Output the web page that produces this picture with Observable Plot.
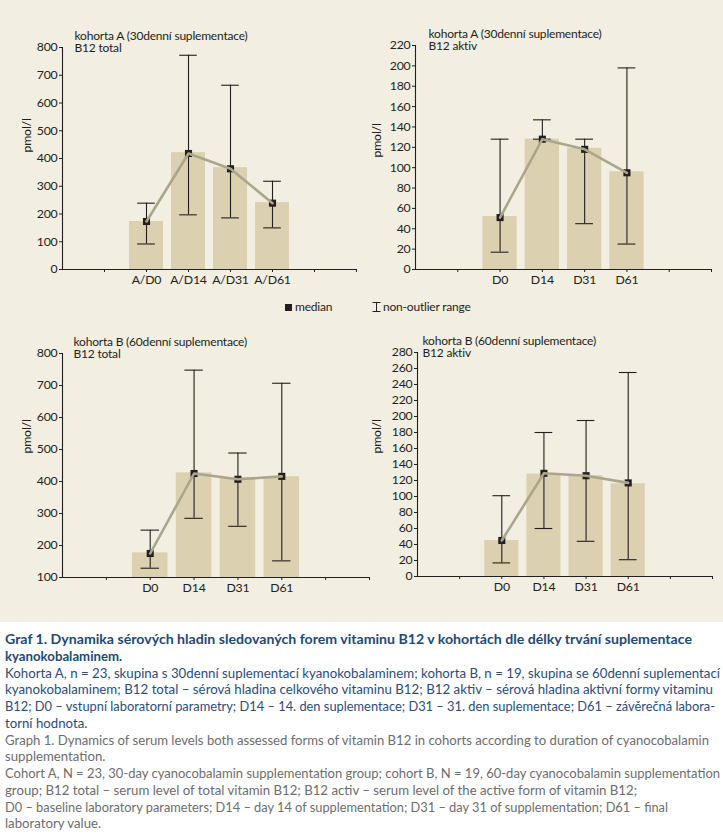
<!DOCTYPE html>
<html>
<head>
<meta charset="utf-8">
<script src="https://cdn.jsdelivr.net/npm/d3@7"></script>
<script src="https://cdn.jsdelivr.net/npm/@observablehq/plot@0.6"></script>
<style>
  body { margin: 0; background: #ffffff; width: 723px; height: 837px; overflow: hidden; }
  #charts { position: relative; width: 723px; height: 622px; background: #f2eee1; }
  .panel { position: absolute; }
  #legend { position: absolute; top: 300px; left: 0; width: 723px; height: 14px;
    font-family: "Lato", "Open Sans", sans-serif; font-size: 12px; letter-spacing: -0.2px; color: #231f20; }
  #legend .item { position: absolute; top: 0; white-space: nowrap; line-height: 14px; }
  #caption { position: absolute; top: 631px; left: 5px; width: 718px;
    font-family: "Lato", sans-serif; font-size: 13.6px; line-height: 16.75px; }
  #caption div { white-space: nowrap; width: max-content; transform-origin: 0 0; }
  .cz-title { color: #1d4a78; font-weight: bold; }
  .cz { color: #2b4d7a; }
  .en { color: #6d6d6d; }
</style>
</head>
<body>
<div id="charts">
  <div id="legend">
    <div class="item" style="left:285px"><span style="display:inline-block;width:7px;height:7px;background:#231f20;vertical-align:0px;margin-right:3px"></span>median</div>
    <div class="item" style="left:372px"><svg width="9" height="10" style="vertical-align:-1px;margin-right:2px"><path d="M0.5,0.5H8.5M4.5,0.5V9.5M0.5,9.5H8.5" stroke="#231f20" fill="none"/></svg>non-outlier range</div>
  </div>
</div>
<div id="caption">
  <div class="cz-title" data-w="687">Graf 1. Dynamika sérových hladin sledovaných forem vitaminu B12 v kohortách dle délky trvání suplementace</div>
  <div class="cz-title">kyanokobalaminem.</div>
  <div class="cz" data-w="715">Kohorta A, n = 23, skupina s 30denní suplementací kyanokobalaminem; kohorta B, n = 19, skupina se 60denní suplementací</div>
  <div class="cz" data-w="708">kyanokobalaminem; B12 total – sérová hladina celkového vitaminu B12; B12 aktiv – sérová hladina aktivní formy vitaminu</div>
  <div class="cz" data-w="710">B12; D0 – vstupní laboratorní parametry; D14 – 14. den suplementace; D31 – 31. den suplementace; D61 – závěrečná labora-</div>
  <div class="cz">torní hodnota.</div>
  <div class="en" data-w="704">Graph 1. Dynamics of serum levels both assessed forms of vitamin B12 in cohorts according to duration of cyanocobalamin</div>
  <div class="en">supplementation.</div>
  <div class="en" data-w="715">Cohort A, N = 23, 30-day cyanocobalamin supplementation group; cohort B, N = 19, 60-day cyanocobalamin supplementation</div>
  <div class="en">group; B12 total – serum level of total vitamin B12; B12 activ – serum level of the active form of vitamin B12;</div>
  <div class="en" data-w="663">D0 – baseline laboratory parameters; D14 – day 14 of supplementation; D31 – day 31 of supplementation; D61 – final</div>
  <div class="en">laboratory value.</div>
</div>
<script>
// ---- data ----
const categoriesA = ["A/D0", "A/D14", "A/D31", "A/D61"];
const categories = ["D0", "D14", "D31", "D61"];

// cohort A, B12 total
const aTotalBar = [173, 421, 367, 241];
const aTotalMedian = [173, 418, 363, 239];
const aTotalLow = [92, 197, 186, 150];
const aTotalHigh = [239, 772, 664, 318];
const aTotalTicks = [0, 100, 200, 300, 400, 500, 600, 700, 800];

// cohort A, B12 aktiv
const aActivBar = [52, 128, 119, 96];
const aActivMedian = [51, 128, 118, 95];
const aActivLow = [17, 128, 45, 25];
const aActivHigh = [128, 147, 128, 198];
const aActivTicks = [0, 20, 40, 60, 80, 100, 120, 140, 160, 180, 200, 220];

// cohort B, B12 total
const bTotalBar = [177, 427, 412, 415];
const bTotalMedian = [175, 425, 407, 416];
const bTotalLow = [129, 285, 260, 152];
const bTotalHigh = [248, 748, 489, 707];
const bTotalTicks = [100, 200, 300, 400, 500, 600, 700, 800];

// cohort B, B12 aktiv
const bActivBar = [45, 128, 126, 116];
const bActivMedian = [45, 129, 126, 117];
const bActivLow = [17, 60, 44, 21];
const bActivHigh = [101, 180, 195, 255];
const bActivTicks = [0, 20, 40, 60, 80, 100, 120, 140, 160, 180, 200, 220, 240, 260, 280];

const titleA = "kohorta A (30denní suplementace)";
const titleB = "kohorta B (60denní suplementace)";
const unitLabel = "pmol/l";

// ---- style ----
const ink = "#231f20";
const barColor = "#dbd0b0";
const lineColor = "#aba68a";
const font = "Lato, 'Open Sans', sans-serif";

function panel(o) {
  const yMin = o.ticks[0], yMax = o.ticks[o.ticks.length - 1];
  // category slots 2..5 on an axis with 7 tick slots
  const data = o.cats.map((c, i) => ({
    cat: c, pos: i + 2, bar: o.bar[i], med: o.med[i], lo: o.lo[i], hi: o.hi[i]
  }));
  const slotTicks = [1, 2, 3, 4, 5, 6, 7];
  const labelFor = (t) => (data.find(d => d.pos === t) || {cat: ""}).cat;
  return Plot.plot({
    width: o.width, height: o.height,
    marginLeft: o.ml, marginRight: o.mr, marginTop: o.mt, marginBottom: o.mb,
    style: {background: "transparent", fontFamily: font, fontSize: "12px", color: ink, overflow: "visible", letterSpacing: "-0.2px"},
    x: {type: "linear", domain: [0, 7], axis: null},
    y: {domain: [yMin, yMax], axis: null},
    marks: [
      Plot.rectY(data, {x1: d => d.pos - 0.405, x2: d => d.pos + 0.405, y1: yMin, y2: "bar", fill: barColor}),
      Plot.ruleX(data, {x: "pos", y1: "lo", y2: "hi", stroke: ink, strokeWidth: 1.1}),
      Plot.ruleY(data, {y: "lo", x1: d => d.pos - 0.21, x2: d => d.pos + 0.21, stroke: ink, strokeWidth: 1.1}),
      Plot.ruleY(data, {y: "hi", x1: d => d.pos - 0.21, x2: d => d.pos + 0.21, stroke: ink, strokeWidth: 1.1}),
      Plot.dot(data, {x: "pos", y: "med", symbol: "square", r: 4, fill: ink, stroke: null}),
      Plot.line(data, {x: "pos", y: "med", stroke: lineColor, strokeWidth: 2.6}),
      Plot.ruleX([0], {stroke: ink, strokeWidth: 1.1}),
      Plot.ruleY([yMin], {stroke: ink, strokeWidth: 1.1}),
      Plot.axisY({ticks: o.ticks, tickSize: 3, tickPadding: 2, label: null, fontSize: 12.3}),
      Plot.axisX({ticks: slotTicks, tickFormat: labelFor, tickSize: 3, tickPadding: 3, label: null, fontSize: 12.3}),
      Plot.text([unitLabel], {frameAnchor: "left", dx: o.ldx, dy: o.ldy, rotate: -90, fontSize: 12.3, fill: ink}),
      Plot.text([o.title1], {frameAnchor: "top-left", lineAnchor: "bottom", dx: o.tdx, dy: -8, fontSize: 12, fill: ink}),
      Plot.text([o.title2], {frameAnchor: "top-left", lineAnchor: "bottom", dx: o.tdx, dy: 4.5, fontSize: 12, fill: ink})
    ]
  });
}

const panels = [
  {left: 0, top: 0, width: 360, height: 300, ml: 62, mr: 4, mt: 47, mb: 31,
   cats: categoriesA, bar: aTotalBar, med: aTotalMedian, lo: aTotalLow, hi: aTotalHigh, ticks: aTotalTicks,
   title1: titleA, title2: "B12 total", tdx: 12, ldx: -35, ldy: -6},
  {left: 360, top: 0, width: 363, height: 300, ml: 55, mr: 12, mt: 45, mb: 31,
   cats: categories, bar: aActivBar, med: aActivMedian, lo: aActivLow, hi: aActivHigh, ticks: aActivTicks,
   title1: titleA, title2: "B12 aktiv", tdx: 13, ldx: -38, ldy: 0},
  {left: 0, top: 300, width: 372, height: 310, ml: 62, mr: 3, mt: 53, mb: 33,
   cats: categories, bar: bTotalBar, med: bTotalMedian, lo: bTotalLow, hi: bTotalHigh, ticks: bTotalTicks,
   title1: titleB, title2: "B12 total", tdx: 11, ldx: -35, ldy: -12},
  {left: 360, top: 300, width: 363, height: 310, ml: 57, mr: 11, mt: 52, mb: 34,
   cats: categories, bar: bActivBar, med: bActivMedian, lo: bActivLow, hi: bActivHigh, ticks: bActivTicks,
   title1: titleB, title2: "B12 aktiv", tdx: 5, ldx: -40, ldy: -11}
];

const charts = document.getElementById("charts");
for (const p of panels) {
  const div = document.createElement("div");
  div.className = "panel";
  div.style.left = p.left + "px";
  div.style.top = p.top + "px";
  div.style.width = p.width + "px";
  div.appendChild(panel(p));
  charts.appendChild(div);
}

// condense each caption line horizontally to the width it spans in the reference
const lines = Array.from(document.querySelectorAll("#caption div"));
const scales = [];
for (const el of lines) {
  if (el.dataset.w) {
    const s = +el.dataset.w / el.getBoundingClientRect().width;
    scales.push(s);
    el.style.transform = `scaleX(${s.toFixed(4)})`;
  }
}
const meanScale = scales.reduce((a, b) => a + b, 0) / scales.length;
for (const el of lines) {
  if (!el.dataset.w) el.style.transform = `scaleX(${meanScale.toFixed(4)})`;
}
</script>
</body>
</html>
